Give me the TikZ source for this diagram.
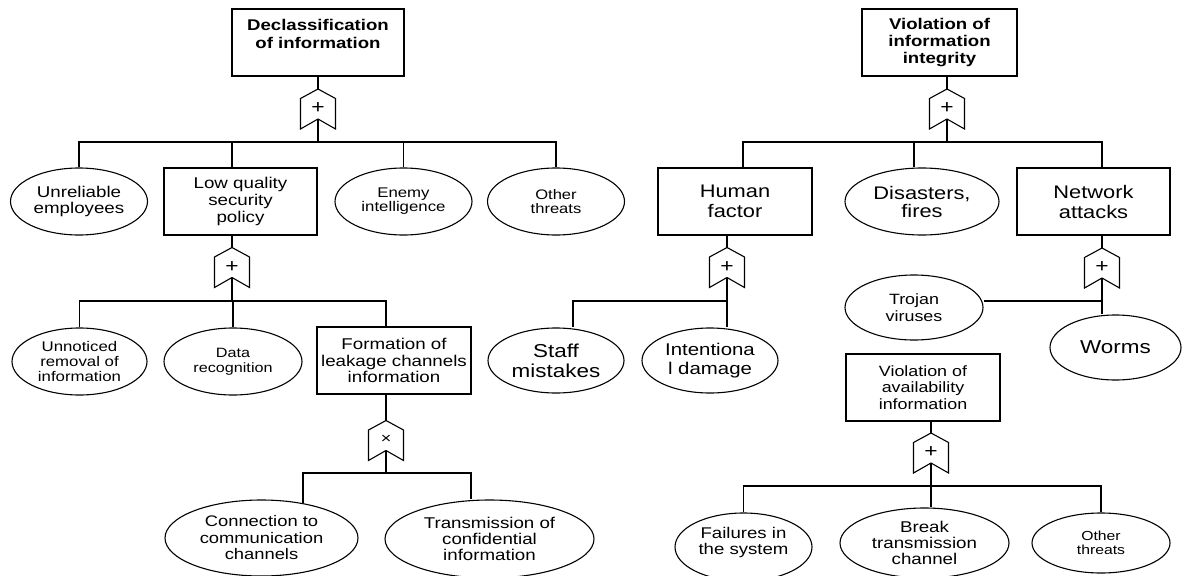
\documentclass[tikz,border=0pt]{standalone}
\usepackage{fontspec}
\setmainfont{Liberation Sans}[FakeStretch=1.2]
\usetikzlibrary{shapes.geometric}
\newcommand\fsz[2]{\fontsize{#1}{#2}\selectfont}
\newcommand\gateoutline[1]{\draw (#1.north) -- ([yshift=-9.5pt]#1.north east) -- (#1.south east) -- ([yshift=10pt]#1.south) -- (#1.south west) -- ([yshift=-9.5pt]#1.north west) -- cycle;}
\begin{document}
\begin{tikzpicture}[x=1pt,y=-1pt,line width=1.1pt,
  box/.style={draw, rectangle, inner sep=0pt, align=center},
  ell/.style={draw, ellipse, inner sep=0pt, align=center},
  gate/.style={inner sep=0pt, outer sep=0pt, minimum width=35pt, minimum height=40pt, font={\fsz{19}{19}}},
  ]
\useasboundingbox (0,0) rectangle (1182,575);

% ---------- left tree ----------
\node[box, minimum width=172pt, minimum height=67pt, font={\fsz{15.5}{17.3}\bfseries}] (D) at (318,42.5) {Declassification\\of information\\~};
\node[gate] (g1) at (318,109) {\raisebox{1.5pt}{+}};
\gateoutline{g1}
\coordinate (b1) at (318,142);

\node[ell, minimum width=137pt, minimum height=67pt, font={\fsz{15.6}{16}}] (ue) at (79,201.5) {Unreliable\\employees};
\node[box, minimum width=153pt, minimum height=67pt, font={\fsz{15.6}{16.7}}] (lq) at (240.5,201.5) {Low quality\\security\\policy};
\node[ell, minimum width=137pt, minimum height=67pt, font={\fsz{14}{14}}] (ei) at (403.5,201.5) {Enemy\\intelligence};
\node[ell, minimum width=137pt, minimum height=67pt, font={\fsz{13.8}{14}}] (ot1) at (556,201.5) {Other\\threats};

\node[gate] (g2) at (232,267.5) {\raisebox{1.5pt}{+}};
\gateoutline{g2}
\coordinate (b2) at (232,301);

\node[ell, minimum width=135pt, minimum height=67pt, font={\fsz{14}{15}}] (ur) at (79.5,361.5) {Unnoticed\\removal of\\information};
\node[ell, minimum width=138pt, minimum height=67pt, font={\fsz{13.5}{15}}] (dr) at (233,361.5) {Data\\recognition};
\node[box, minimum width=154pt, minimum height=67pt, font={\fsz{15.6}{16.3}}] (fl) at (394,360.5) {Formation of\\leakage channels\\information};

\node[gate, font={\fsz{15}{15}}] (g3) at (386,440.5) {\raisebox{1.5pt}{×}};
\gateoutline{g3}
\coordinate (b3) at (386,473);

\node[ell, minimum width=193pt, minimum height=76pt, font={\fsz{15.3}{16.5}}] (cc) at (261.5,538) {Connection to\\communication\\channels};
\node[ell, minimum width=209pt, minimum height=78pt, font={\fsz{15.6}{16}}] (tc) at (489.5,539) {Transmission of\\confidential\\information};

\draw (g1.north |- D.south) -- (g1.north);
\draw ([yshift=10pt]g1.south) -- (b1);
\draw (b1) -| (ue.north);
\draw (b1) -| ([xshift=-8.5pt]lq.north);
\draw (b1) -| (ei.north);
\draw (b1) -| (ot1.north);

\draw (g2.north |- lq.south) -- (g2.north);
\draw ([yshift=10pt]g2.south) -- (b2);
\draw (b2) -| (ur.north);
\draw (b2) -| (dr.north);
\draw (b2) -| ([xshift=-8pt]fl.north);

\draw (g3.north |- fl.south) -- (g3.north);
\draw ([yshift=10pt]g3.south) -- (b3);
\draw (b3) -| (cc.40);
\draw (b3) -| ([xshift=-18.5pt]tc.north);

% ---------- right tree ----------
\node[box, minimum width=155pt, minimum height=67pt, font={\fsz{15.5}{17.3}\bfseries}] (V) at (939.5,42.5) {Violation of\\information\\integrity};
\node[gate] (g4) at (947,109) {\raisebox{1.5pt}{+}};
\gateoutline{g4}
\coordinate (b4) at (947,142);

\node[box, minimum width=154pt, minimum height=67pt, font={\fsz{18.2}{20}}] (hf) at (735,201.5) {Human\\factor};
\node[ell, minimum width=154pt, minimum height=67pt, font={\fsz{18.2}{18}}] (df) at (922,201.5) {Disasters,\\fires};
\node[box, minimum width=153pt, minimum height=67pt, font={\fsz{18.2}{20}}] (na) at (1093.5,201.5) {Network\\attacks};

\node[gate] (g5) at (727,267.5) {\raisebox{1.5pt}{+}};
\gateoutline{g5}
\coordinate (b5) at (727,301);

\node[ell, minimum width=136pt, minimum height=65pt, font={\fsz{18.7}{20}}] (sm) at (556,360.5) {Staff\\mistakes};
\node[ell, minimum width=136pt, minimum height=65pt, font={\fsz{17}{18.3}}] (id) at (710,360.5) {Intentiona\\l damage};

\node[gate] (g6) at (1102,268) {\raisebox{1.5pt}{+}};
\gateoutline{g6}
\coordinate (b6) at (1102,301);

\node[ell, minimum width=138pt, minimum height=65pt, font={\fsz{14.9}{16.7}}] (tv) at (914,307.5) {Trojan\\viruses};
\node[ell, minimum width=131pt, minimum height=65pt, font={\fsz{18.7}{20}}] (wm) at (1115.5,347.5) {Worms};

\node[box, minimum width=154pt, minimum height=67pt, font={\fsz{14.9}{16.3}}] (av) at (923,387.5) {Violation of\\availability\\information};
\node[gate] (g7) at (931,453) {\raisebox{1.5pt}{+}};
\gateoutline{g7}
\coordinate (b7) at (931,486);

\node[ell, minimum width=137pt, minimum height=68pt, font={\fsz{15.5}{16}}] (fs) at (743.5,547) {Failures in\\the system\\[-4pt]\mbox{}};
\node[ell, minimum width=169pt, minimum height=70pt, font={\fsz{15.6}{16}}] (bt) at (924.5,543) {Break\\transmission\\channel};
\node[ell, minimum width=138pt, minimum height=60pt, font={\fsz{13.1}{14}}] (ot2) at (1101,543) {Other\\threats};

\draw ([xshift=7.5pt]V.south) -- (g4.north);
\draw ([yshift=10pt]g4.south) -- (b4);
\draw (b4) -| ([xshift=8pt]hf.north);
\draw (b4) -| ([xshift=-8pt]df.north);
\draw (b4) -| ([xshift=8.5pt]na.north);

\draw ([xshift=-8pt]hf.south) -- (g5.north);
\draw ([yshift=10pt]g5.south) -- (b5);
\draw (b5) -| ([xshift=17pt]sm.north);
\draw (b5) -| ([xshift=17pt]id.north);

\draw ([xshift=8.5pt]na.south) -- (g6.north);
\draw ([yshift=10pt]g6.south) -- (b6);
\draw (b6) -- (b6 -| tv.east);
\draw (b6) -- (b6 |- wm.north);

\draw ([xshift=8pt]av.south) -- (g7.north);
\draw ([yshift=10pt]g7.south) -- (b7);
\draw (b7) -| (fs.north);
\draw (b7) -| ([xshift=6.5pt]bt.north);
\draw (b7) -| (ot2.north);
\end{tikzpicture}
\end{document}
